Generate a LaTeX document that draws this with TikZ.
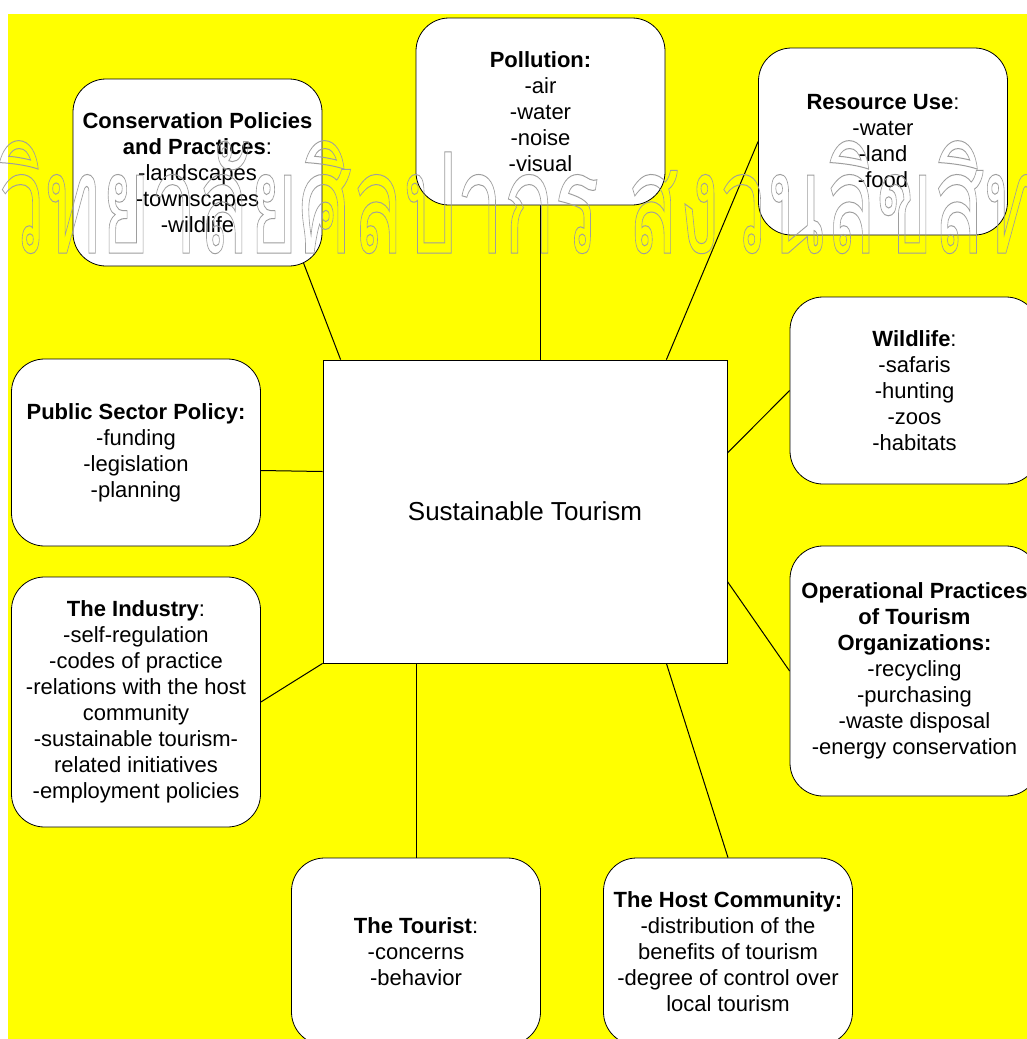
\documentclass[tikz,border=0pt]{standalone}
\usepackage{fontspec}
\setmainfont{Liberation Sans}
\newfontfamily\thaifont[Script=Thai]{Loma}
\usepackage{xcolor}
\usepackage{tikz}
\usetikzlibrary{calc,backgrounds}

\definecolor{amarillo}{RGB}{255,255,0}
% texto hueco (solo contorno) para la marca de agua
\newcommand{\hueco}[1]{\special{pdf:literal direct 1 Tr 0.62 G 0.5 w}#1\special{pdf:literal direct 0 Tr 0 G}}

\begin{document}
\begin{tikzpicture}[x=0.5pt, y=-0.5pt,
		caja/.style={draw, fill=white, rounded corners=16.5pt, minimum width=124.5pt, minimum height=93.5pt, inner sep=0pt, align=center, font=\fontsize{11}{13}\selectfont},
		cajalarga/.style={caja, minimum height=125pt},
		enlace/.style={line width=0.5pt}]

	\useasboundingbox (0,0) rectangle (1027,1039);

	% Recuadro central
	\node[draw, fill=white, minimum width=202pt, minimum height=151.5pt, font=\fontsize{13}{15}\selectfont] (turismo) at (525,511.5) {Sustainable Tourism};

	% Cajas de arriba
	\node[caja] (conservacion) at (197.5,172.5) {\textbf{Conservation Policies}\\\textbf{and Practices}:\\-landscapes\\-townscapes\\-wildlife};
	\node[caja] (contaminacion) at (540.5,111.5) {\textbf{Pollution:}\\-air\\-water\\-noise\\-visual};
	\node[caja] (recursos) at (883,141.5) {\textbf{Resource Use}:\\-water\\-land\\-food};

	% Cajas de la derecha
	\node[caja] (fauna) at (914.5,390.5) {\textbf{Wildlife}:\\-safaris\\-hunting\\-zoos\\-habitats};
	\node[cajalarga] (operaciones) at (914.5,671) {\textbf{Operational Practices}\\\textbf{of Tourism}\\\textbf{Organizations:}\\-recycling\\-purchasing\\-waste disposal\\-energy conservation};

	% Cajas de la izquierda
	\node[caja] (publico) at (136,452.5) {\textbf{Public Sector Policy:}\\-funding\\-legislation\\-planning};
	\node[cajalarga] (industria) at (136,702) {\textbf{The Industry}:\\-self-regulation\\-codes of practice\\-relations with the host\\community\\-sustainable tourism-\\related initiatives\\-employment policies};

	% Cajas de abajo
	\node[caja] (turista) at (416,951.5) {\textbf{The Tourist}:\\-concerns\\-behavior};
	\node[caja] (comunidad) at (728,951.5) {\textbf{The Host Community:}\\-distribution of the\\benefits of tourism\\-degree of control over\\local tourism};

	% Fondo y lineas (detras de las cajas)
	\begin{pgfonlayer}{background}
		\fill[amarillo] (8,14) rectangle (1027,1039);
		\draw[enlace] ($(conservacion.south east)+(-26,-22)$) -- ($(turismo.north west)+(18,0)$);
		\draw[enlace] (contaminacion.south) -- (contaminacion.south |- turismo.north);
		\draw[enlace] (recursos.west) -- ($(turismo.north east)+(-61,0)$);
		\draw[enlace] (fauna.west) -- ($(turismo.east)+(0,-58.5)$);
		\draw[enlace] (operaciones.west) -- ($(turismo.east)+(0,70)$);
		\draw[enlace] ($(publico.east)+(0,18)$) -- ($(turismo.west)+(0,-40)$);
		\draw[enlace] (industria.east) -- (turismo.south west);
		\draw[enlace] (turista.north) -- (turista.north |- turismo.south);
		\draw[enlace] (comunidad.north) -- ($(turismo.south east)+(-61,0)$);
	\end{pgfonlayer}

	% Marca de agua
	\node[anchor=base west, inner sep=0pt] (marca) at (-2,253) {\scalebox{0.6}[1]{\fontsize{70}{70}\thaifont\hueco{วิทยาลัยศิลปากร สงวนลิขสิทธิ์}}};

\end{tikzpicture}
\end{document}
